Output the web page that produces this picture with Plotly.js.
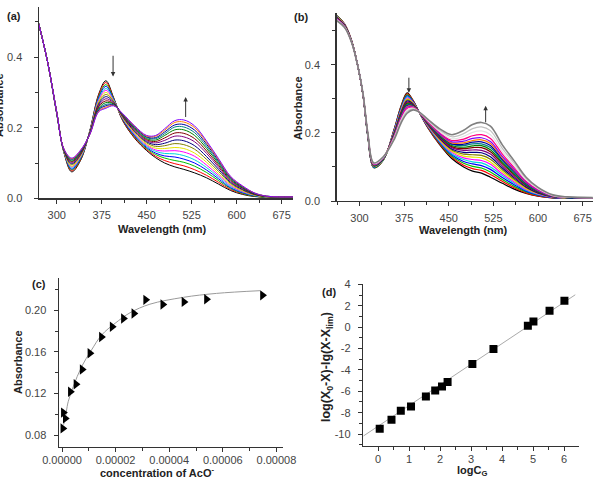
<!DOCTYPE html>
<html>
<head>
<meta charset="utf-8">
<script src="https://cdn.plot.ly/plotly-3.0.1.min.js"></script>
<style>html,body{margin:0;padding:0;background:#fff;}#chart{width:597px;height:479px;}</style>
</head>
<body>
<div id="chart"></div>
<script>
// ---------- Panel (a): UV-vis titration spectra ----------
const wavelengthA = [270, 285, 300, 312, 325, 340, 355, 370, 382, 395, 410, 430, 450, 465, 480, 497, 512, 530, 550, 570, 590, 610, 630, 650, 670, 694];
const absorbanceA = [
 [.495,.385,.240,.130,.075,.108,.190,.295,.333,.285,.220,.170,.135,.115,.100,.089,.082,.072,.058,.040,.022,.011,.005,.003,.003,.003],
 [.495,.385,.240,.131,.078,.110,.189,.292,.328,.283,.221,.172,.138,.119,.107,.098,.092,.081,.065,.045,.025,.013,.006,.003,.003,.003],
 [.495,.385,.241,.131,.081,.112,.189,.288,.322,.282,.223,.175,.141,.124,.114,.107,.102,.091,.073,.050,.028,.014,.006,.003,.003,.003],
 [.495,.385,.241,.132,.083,.114,.188,.285,.317,.280,.224,.177,.144,.128,.120,.117,.111,.100,.080,.055,.030,.016,.007,.004,.003,.003],
 [.495,.385,.241,.133,.086,.116,.187,.281,.311,.279,.226,.180,.147,.133,.127,.126,.121,.109,.087,.060,.033,.018,.008,.004,.003,.003],
 [.495,.385,.242,.134,.089,.118,.187,.278,.306,.277,.227,.182,.150,.137,.134,.135,.131,.119,.094,.065,.036,.019,.009,.004,.003,.003],
 [.495,.385,.242,.134,.091,.120,.186,.274,.300,.275,.228,.185,.153,.142,.141,.144,.141,.128,.102,.070,.039,.021,.009,.004,.003,.003],
 [.495,.385,.243,.135,.095,.123,.185,.270,.294,.274,.230,.188,.157,.147,.149,.155,.152,.139,.110,.076,.042,.023,.010,.005,.003,.003],
 [.495,.385,.243,.136,.098,.125,.184,.266,.288,.272,.232,.190,.160,.152,.156,.165,.163,.149,.118,.082,.045,.025,.011,.005,.004,.004],
 [.495,.385,.243,.137,.101,.127,.183,.262,.282,.270,.233,.193,.163,.157,.164,.176,.174,.160,.127,.088,.048,.027,.012,.005,.004,.004],
 [.495,.385,.244,.137,.104,.129,.183,.259,.276,.268,.235,.196,.166,.161,.171,.185,.184,.169,.134,.093,.051,.029,.012,.005,.004,.004],
 [.495,.385,.244,.138,.106,.131,.182,.255,.271,.267,.236,.198,.169,.165,.178,.194,.194,.178,.141,.098,.054,.030,.013,.005,.004,.004],
 [.495,.385,.244,.139,.109,.133,.181,.252,.266,.265,.237,.200,.172,.169,.183,.202,.202,.186,.147,.102,.056,.032,.014,.006,.004,.004],
 [.495,.385,.245,.139,.111,.134,.181,.250,.262,.264,.238,.202,.174,.172,.188,.208,.209,.193,.153,.106,.058,.033,.014,.006,.004,.004],
 [.495,.385,.245,.140,.112,.136,.180,.247,.258,.263,.239,.204,.176,.176,.193,.215,.216,.200,.158,.109,.060,.034,.015,.006,.004,.004],
 [.495,.385,.245,.140,.114,.137,.180,.245,.255,.262,.240,.205,.178,.178,.197,.220,.222,.205,.162,.112,.062,.035,.015,.006,.004,.004]
];

// ---------- Panel (b): UV-vis titration spectra ----------
const wavelengthB = [262, 275, 287, 298, 306, 314, 324, 340, 358, 370, 380, 390, 400, 415, 435, 455, 475, 490, 505, 520, 540, 560, 580, 600, 625, 650, 692];
const absorbanceB = [
 [.545,.520,.470,.390,.310,.190,.098,.120,.210,.280,.318,.296,.262,.215,.165,.125,.100,.088,.082,.070,.052,.035,.022,.014,.009,.008,.008],
 [.544,.520,.470,.390,.310,.191,.099,.121,.209,.278,.315,.295,.262,.216,.167,.129,.105,.095,.090,.078,.058,.039,.024,.015,.009,.008,.008],
 [.544,.519,.470,.390,.311,.191,.099,.121,.207,.275,.312,.293,.262,.218,.170,.132,.111,.102,.097,.085,.063,.043,.027,.017,.010,.008,.008],
 [.543,.519,.469,.390,.311,.192,.100,.122,.206,.273,.309,.292,.262,.219,.172,.136,.116,.109,.104,.093,.069,.048,.029,.018,.010,.009,.008],
 [.542,.518,.469,.390,.311,.192,.101,.122,.204,.270,.306,.290,.262,.220,.174,.139,.122,.115,.112,.100,.075,.052,.032,.019,.011,.009,.008],
 [.541,.518,.469,.390,.311,.193,.102,.123,.203,.268,.303,.289,.262,.221,.177,.143,.127,.122,.119,.108,.080,.056,.034,.021,.011,.009,.009],
 [.541,.517,.469,.390,.312,.193,.102,.123,.201,.265,.300,.288,.262,.223,.179,.146,.132,.129,.127,.115,.086,.060,.036,.022,.012,.009,.009],
 [.540,.517,.468,.390,.312,.194,.103,.124,.200,.263,.297,.286,.262,.224,.182,.150,.138,.136,.134,.123,.092,.064,.039,.023,.012,.009,.009],
 [.539,.516,.468,.390,.312,.194,.104,.124,.198,.260,.294,.285,.262,.225,.184,.153,.143,.143,.142,.130,.097,.068,.041,.024,.013,.010,.009],
 [.538,.516,.468,.390,.312,.195,.104,.125,.197,.258,.291,.283,.262,.226,.186,.157,.149,.150,.149,.138,.103,.072,.044,.026,.013,.010,.009],
 [.538,.515,.468,.390,.313,.195,.105,.125,.195,.255,.288,.282,.262,.228,.189,.160,.154,.157,.157,.145,.109,.077,.046,.027,.014,.010,.009],
 [.537,.515,.467,.390,.313,.195,.106,.125,.194,.253,.286,.281,.262,.229,.190,.163,.158,.162,.163,.151,.113,.080,.048,.028,.014,.010,.009],
 [.536,.514,.467,.390,.313,.196,.106,.126,.193,.251,.283,.280,.262,.230,.192,.166,.163,.168,.168,.157,.118,.083,.050,.029,.014,.010,.009],
 [.536,.514,.467,.390,.313,.196,.107,.126,.191,.249,.281,.279,.262,.231,.194,.168,.167,.173,.174,.163,.122,.087,.052,.030,.015,.010,.009],
 [.535,.513,.467,.390,.313,.197,.107,.127,.190,.247,.278,.278,.262,.232,.196,.171,.171,.178,.180,.169,.127,.090,.054,.031,.015,.011,.009],
 [.535,.513,.467,.390,.314,.197,.108,.127,.189,.245,.276,.276,.262,.233,.198,.174,.176,.184,.186,.175,.131,.093,.056,.032,.015,.011,.009],
 [.534,.512,.466,.390,.314,.198,.109,.128,.187,.242,.272,.275,.262,.234,.201,.178,.182,.192,.195,.184,.138,.098,.059,.034,.016,.011,.010],
 [.533,.512,.466,.390,.314,.198,.110,.128,.185,.239,.268,.273,.262,.236,.204,.183,.190,.202,.206,.195,.146,.104,.062,.036,.016,.011,.010],
 [.531,.511,.465,.390,.315,.199,.111,.129,.183,.235,.263,.271,.262,.238,.208,.189,.198,.213,.218,.207,.155,.111,.066,.038,.017,.012,.010],
 [.530,.510,.465,.390,.315,.200,.112,.130,.180,.230,.258,.268,.262,.240,.212,.195,.208,.225,.231,.220,.165,.118,.070,.040,.018,.012,.010]
];

// ---------- Panel (c): absorbance vs concentration of AcO- ----------
const concAcO = [0.0000003, 0.0000005, 0.0000012, 0.0000031, 0.0000052, 0.0000075, 0.0000104, 0.0000147, 0.0000187, 0.0000229, 0.0000268, 0.0000312, 0.0000376, 0.0000455, 0.0000539, 0.0000748];
const absC = [0.0864, 0.1016, 0.0960, 0.1216, 0.1288, 0.1430, 0.1586, 0.1742, 0.1841, 0.1920, 0.1968, 0.2100, 0.2055, 0.2080, 0.2105, 0.2143];
const fitConc = [0.0000006, 0.0000011, 0.0000023, 0.0000042, 0.0000073, 0.0000110, 0.0000148, 0.0000198, 0.0000254, 0.0000328, 0.0000453, 0.0000577, 0.0000739];
const fitAbs = [0.0900, 0.0944, 0.1120, 0.1265, 0.1457, 0.1617, 0.1762, 0.1874, 0.1976, 0.2058, 0.2124, 0.2162, 0.2188];

// ---------- Panel (d): linear fit ----------
const logCG = [0.05, 0.43, 0.73, 1.06, 1.54, 1.84, 2.06, 2.24, 3.04, 3.72, 4.83, 5.01, 5.53, 6.01];
const logRatio = [-9.51, -8.67, -7.83, -7.42, -6.49, -5.92, -5.55, -5.14, -3.46, -2.06, 0.12, 0.53, 1.53, 2.46];
const lineLogCG = [-0.48, 6.36];
const lineLogRatio = [-10.19, 3.02];
const yTickValsD = [-10, -8, -6, -4, -2, 0, 2, 4];
const yTickTextD = ['-10', '-8', '-6', '-4', '-2', '0', '2', '4'];

// ---------- styles ----------
const colorsA = ['#000000','#FF0000','#00C000','#0000FF','#00D8D8','#FF00FF','#E6E600','#808000','#000080','#800080','#800000','#008000','#008080','#0000A0','#FF8000','#8000FF'];
const colorsB = ['#000000','#FF0000','#00C000','#0000FF','#00D8D8','#FF00FF','#E6E600','#808000','#000080','#800080','#800000','#008000','#008080','#0000A0','#FF8000','#8000FF','#FF0080','#E2E2E2','#C0C0C0','#808080'];

const FONT = 'Liberation Sans, Arial, sans-serif';
const traces = [];
absorbanceA.forEach((row, i) => traces.push({
  x: wavelengthA, y: row, type: 'scatter', mode: 'lines', xaxis: 'x', yaxis: 'y',
  line: {color: colorsA[i], width: 1, shape: 'spline', smoothing: 1}, hoverinfo: 'skip'
}));
absorbanceB.forEach((row, i) => traces.push({
  x: wavelengthB, y: row, type: 'scatter', mode: 'lines', xaxis: 'x2', yaxis: 'y2',
  line: {color: colorsB[i], width: i === colorsB.length - 1 ? 1.6 : 1.2, shape: 'spline', smoothing: 1}, hoverinfo: 'skip'
}));
traces.push({x: fitConc, y: fitAbs, type: 'scatter', mode: 'lines', xaxis: 'x3', yaxis: 'y3',
  line: {color: '#9a9a9a', width: 1, shape: 'spline', smoothing: 1}});
traces.push({x: concAcO, y: absC, type: 'scatter', mode: 'markers', xaxis: 'x3', yaxis: 'y3',
  marker: {symbol: 'triangle-right', size: 9, color: '#000'}});
traces.push({x: lineLogCG, y: lineLogRatio, type: 'scatter', mode: 'lines', xaxis: 'x4', yaxis: 'y4',
  line: {color: '#aaaaaa', width: 1}});
traces.push({x: logCG, y: logRatio, type: 'scatter', mode: 'markers', xaxis: 'x4', yaxis: 'y4',
  marker: {symbol: 'square', size: 8, color: '#000'}});

function ax(extra) {
  return Object.assign({
    showgrid: false, zeroline: false, showline: true, linecolor: '#333', linewidth: 1.5,
    ticks: 'outside', ticklen: 4, tickwidth: 1, tickcolor: '#333',
    tickfont: {family: FONT, size: 11, color: '#444'}
  }, extra);
}
const minorStyle = {ticks: 'outside', ticklen: 3, tickwidth: 1, tickcolor: '#333'};

function px(x) { return x / 597; }
function py(y) { return 1 - y / 479; }
function lab(text, x, y, opts) {
  return Object.assign({text: text, xref: 'paper', yref: 'paper', x: px(x), y: py(y),
    xanchor: 'center', yanchor: 'middle', showarrow: false,
    font: {family: FONT, size: 11, color: '#222'}}, opts || {});
}
function arrow(xa, ya, x, y, ax0, ay0) {
  return {xref: xa, yref: ya, axref: xa, ayref: ya, x: x, y: y, ax: ax0, ay: ay0, text: '',
    showarrow: true, arrowhead: 2, arrowsize: 0.9, arrowwidth: 1, arrowcolor: '#333'};
}

const layout = {
  width: 597, height: 479, autosize: false, showlegend: false,
  margin: {l: 0, r: 0, t: 0, b: 0}, paper_bgcolor: '#fff', plot_bgcolor: 'rgba(0,0,0,0)',
  xaxis: ax({domain: [0.06533, 0.49079], range: [270.5, 694], tick0: 300, dtick: 75, anchor: 'y', ticklabelstandoff: 2,
    minor: Object.assign({tick0: 300, dtick: 37.5}, minorStyle)}),
  yaxis: ax({domain: [0.58601, 0.98601], range: [0, 0.5428], tick0: 0, dtick: 0.2, tickformat: '.1f', anchor: 'x', ticklabelstandoff: 9,
    minor: Object.assign({tick0: 0, dtick: 0.1}, minorStyle)}),
  xaxis2: ax({domain: [0.56399, 0.99330], range: [261.7, 692.4], tick0: 300, dtick: 75, anchor: 'y2', ticklabelstandoff: 2,
    minor: Object.assign({tick0: 300, dtick: 37.5}, minorStyle)}),
  yaxis2: ax({domain: [0.58038, 0.97223], range: [0, 0.552], tick0: 0, dtick: 0.2, tickformat: '.1f', anchor: 'x2', ticklabelstandoff: 9,
    minor: Object.assign({tick0: 0, dtick: 0.1}, minorStyle)}),
  xaxis3: ax({domain: [0.09883, 0.47353], range: [-0.00000112, 0.00008235], tick0: 0, dtick: 0.00002, tickformat: '.5f', anchor: 'y3', ticklabelstandoff: -1,
    minor: Object.assign({tick0: 0, dtick: 0.00001}, minorStyle)}),
  yaxis3: ax({domain: [0.06743, 0.41900], range: [0.0688, 0.2307], tick0: 0.08, dtick: 0.04, tickformat: '.2f', anchor: 'x3', ticklabelstandoff: 5,
    minor: Object.assign({tick0: 0.08, dtick: 0.02}, minorStyle)}),
  xaxis4: ax({domain: [0.60854, 0.97035], range: [-0.48, 6.49], tick0: 0, dtick: 1, anchor: 'y4', ticklabelstandoff: -1,
    minor: Object.assign({tick0: 0, dtick: 0.5}, minorStyle)}),
  yaxis4: ax({domain: [0.06952, 0.40647], range: [-11.09, 4], tickmode: 'array', tickvals: yTickValsD, ticktext: yTickTextD, anchor: 'x4', ticklabelstandoff: 5,
    minor: Object.assign({tick0: 0, dtick: 1}, minorStyle)}),
  annotations: [
    lab('<b>(a)</b>', 14, 16),
    lab('<b>(b)</b>', 301, 17),
    lab('<b>(c)</b>', 39, 284),
    lab('<b>(d)</b>', 329, 292),
    lab('<b>Wavelength (nm)</b>', 162, 229),
    lab('<b>Wavelength (nm)</b>', 463, 230),
    lab('<b>Absorbance</b>', -1, 105, {textangle: -90}),
    lab('<b>Absorbance</b>', 298, 108, {textangle: -90}),
    lab('<b>Absorbance</b>', 18, 362, {textangle: -90}),
    lab('<b>concentration of AcO<sup>-</sup></b>', 157, 472),
    lab('<b>logC<sub>G</sub></b>', 472, 471),
    lab('<b>log(X<sub>0</sub>-X)-lg(X-X<sub>lim</sub>)</b>', 327, 367, {textangle: -90, font: {family: FONT, size: 12.5, color: '#222'}}),
    arrow('x', 'y', 394, 0.345, 394, 0.408),
    arrow('x', 'y', 515, 0.287, 515, 0.226),
    arrow('x2', 'y2', 383, 0.318, 383, 0.367),
    arrow('x2', 'y2', 512, 0.28, 512, 0.227)
  ]
};

Plotly.newPlot('chart', traces, layout, {staticPlot: true, displayModeBar: false});
</script>
</body>
</html>
